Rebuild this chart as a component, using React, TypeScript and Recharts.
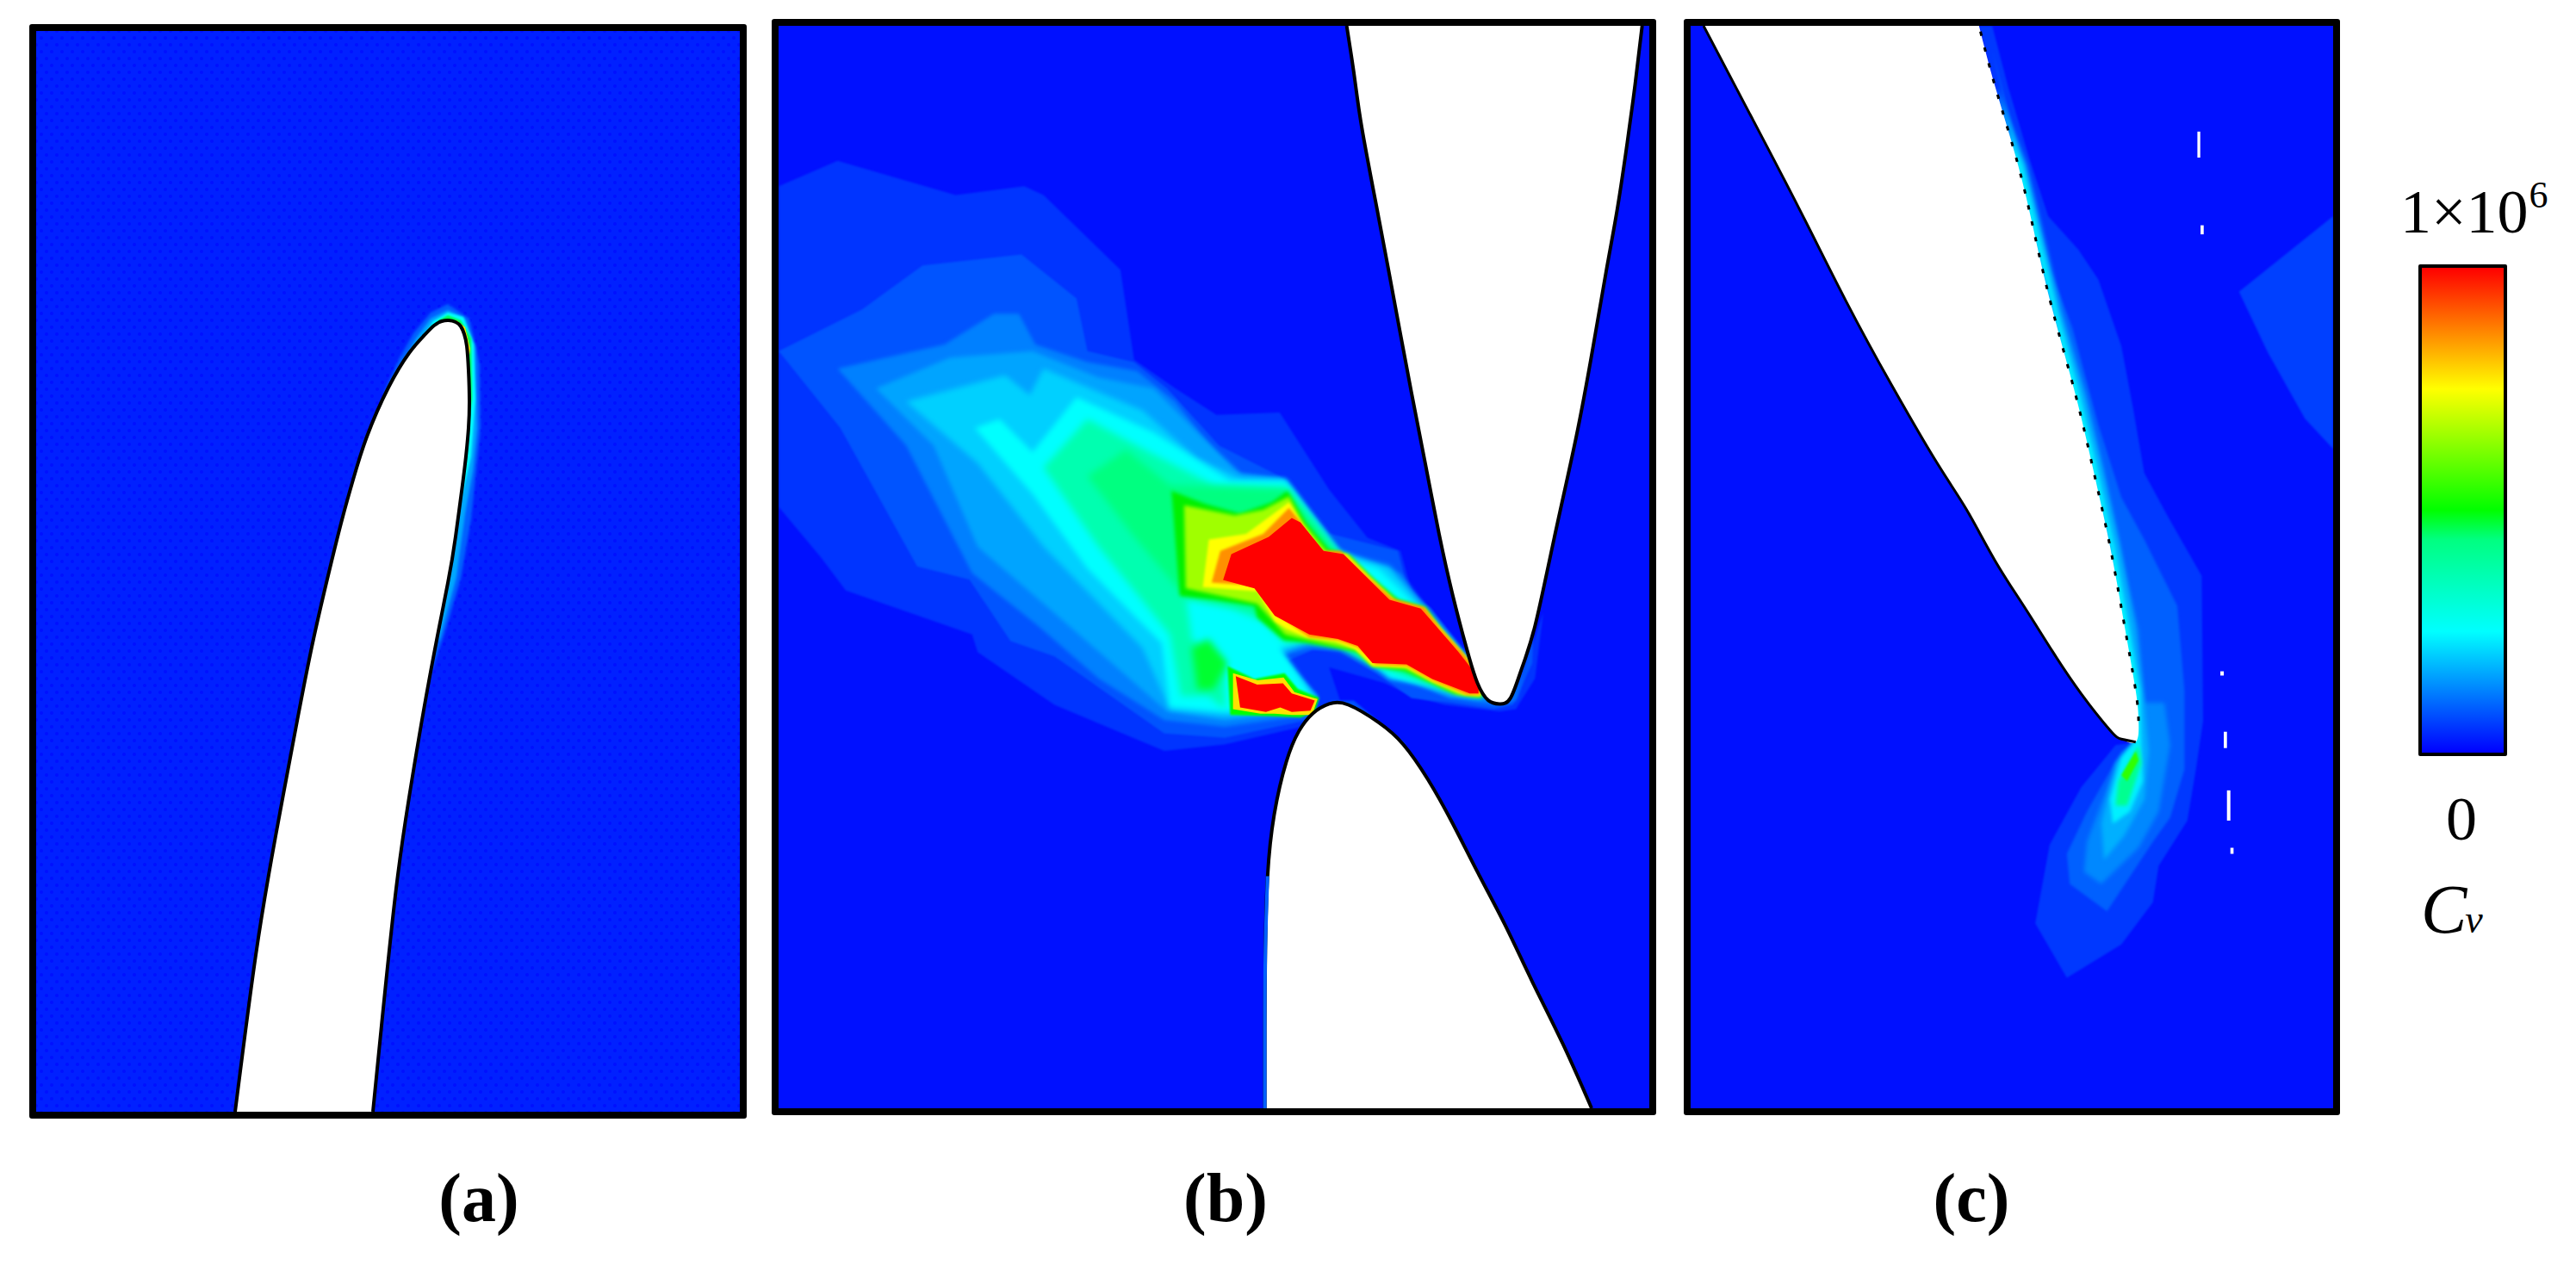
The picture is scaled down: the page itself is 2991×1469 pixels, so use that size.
import React from "react";
import { ScatterChart, Scatter, XAxis, YAxis, Polygon, Curve, BarChart, Bar } from "recharts";

type Pt = [number, number];

const BLUE = "#0010ff";

// panel (a), read in image pixels
const aHalo1: Pt[] = [[498, 790], [518, 730], [535, 672], [547, 603], [558, 497], [557, 423], [545, 370], [520, 353], [500, 363], [480, 387], [463, 417], [447, 453], [435, 497], [470, 700]];
const aHalo2: Pt[] = [[510, 745], [530, 670], [540, 597], [549, 547], [554, 497], [552, 403], [540, 370], [520, 360], [500, 370], [483, 393], [470, 417], [453, 447], [440, 480], [480, 650]];
const aHalo3: Pt[] = [[535, 583], [547, 530], [552, 463], [550, 400], [538, 368], [520, 363], [503, 373], [487, 397], [475, 415], [500, 500]];
const aHalo4: Pt[] = [[543, 497], [548, 463], [547, 393], [535, 372], [520, 366], [508, 373], [510, 450]];
const aHalo5: Pt[] = [[530, 372], [540, 380], [546, 405], [545, 412], [535, 412]];
const aFoil: Pt[] = [[273, 1291], [297, 1109], [320, 971], [346, 832], [364, 742], [383, 660], [398, 600], [410, 557], [426, 507], [451, 450], [475, 410], [492, 390], [504, 378], [513, 373], [521, 372], [529, 374], [535, 379], [539, 388], [542, 402], [544, 430], [545, 465], [544, 497], [541, 530], [537, 563], [529, 623], [520, 677], [498, 791], [475, 926], [459, 1040], [443, 1191], [433, 1291]];

// panel (b), in grid units
const bL1: Pt[] = [[38, 130], [145, 72], [360, 150], [485, 130], [520, 150], [660, 320], [685, 525], [760, 590], [835, 650], [950, 645], [1040, 820], [1110, 930], [1170, 960], [1190, 1050], [1225, 1090], [1300, 1210], [1320, 1285], [1350, 1290], [1400, 1210], [1430, 1100], [1415, 1250], [1380, 1320], [1350, 1325], [1250, 1310], [1190, 1290], [1140, 1260], [1040, 1225], [1060, 1300], [1040, 1310], [990, 1360], [850, 1400], [740, 1415], [540, 1310], [400, 1190], [390, 1150], [160, 1050], [115, 975], [38, 860]];
const bEdge: Pt[] = [[1040, 1300], [1085, 1300], [1180, 1400], [1160, 1400], [1070, 1320]];
const bL2: Pt[] = [[38, 505], [190, 410], [300, 310], [480, 285], [580, 385], [600, 505], [685, 530], [745, 590], [840, 720], [950, 790], [1040, 920], [1165, 960], [1185, 1055], [1225, 1090], [1300, 1215], [1325, 1285], [1370, 1295], [1395, 1225], [1412, 1150], [1410, 1215], [1375, 1310], [1340, 1320], [1260, 1305], [1190, 1295], [1140, 1250], [1060, 1190], [1010, 1185], [955, 1215], [1020, 1290], [1000, 1345], [850, 1385], [740, 1375], [540, 1200], [460, 1165], [385, 1025], [290, 995], [150, 680]];
const bL3: Pt[] = [[145, 545], [340, 490], [430, 420], [475, 420], [505, 490], [600, 530], [690, 550], [760, 620], [860, 780], [950, 795], [1050, 950], [1170, 1010], [1215, 1085], [1300, 1210], [1330, 1300], [1375, 1295], [1395, 1240], [1380, 1300], [1340, 1310], [1260, 1295], [1200, 1260], [1150, 1250], [1060, 1180], [1010, 1180], [950, 1200], [1020, 1290], [995, 1335], [850, 1360], [740, 1345], [620, 1250], [510, 1130], [390, 1010], [270, 720]];
const bL4: Pt[] = [[215, 590], [350, 520], [500, 505], [620, 565], [720, 590], [800, 690], [880, 785], [960, 795], [1060, 960], [1170, 1030], [1215, 1090], [1300, 1215], [1330, 1295], [1260, 1290], [1150, 1240], [1060, 1170], [1005, 1170], [950, 1195], [1020, 1295], [990, 1325], [850, 1345], [745, 1325], [640, 1210], [520, 1080], [400, 950], [320, 720]];
const bL5: Pt[] = [[270, 620], [450, 560], [495, 605], [520, 545], [700, 640], [800, 750], [880, 795], [960, 800], [1060, 965], [1150, 995], [1210, 1090], [1300, 1225], [1320, 1295], [1260, 1285], [1150, 1240], [1060, 1165], [1000, 1165], [950, 1190], [1015, 1300], [990, 1320], [850, 1335], [750, 1320], [700, 1180], [520, 950], [400, 760]];
const bL6: Pt[] = [[395, 680], [440, 660], [500, 735], [580, 610], [720, 690], [860, 800], [960, 800], [1060, 970], [1130, 1000], [1205, 1090], [1300, 1240], [1315, 1290], [1250, 1270], [1150, 1250], [1130, 1225], [1060, 1170], [1000, 1160], [950, 1180], [1015, 1300], [990, 1318], [850, 1325], [750, 1315], [735, 1170], [600, 1000], [500, 830]];
const bL7: Pt[] = [[520, 770], [600, 660], [720, 740], [830, 810], [960, 815], [1050, 965], [1150, 1070], [1200, 1090], [1300, 1250], [1310, 1290], [1250, 1270], [1120, 1215], [1060, 1180], [1000, 1165], [960, 1170], [920, 1120], [860, 1090], [780, 1070], [790, 1160], [850, 1220], [850, 1320], [820, 1290], [770, 1290], [750, 1150], [620, 950]];
const bL8: Pt[] = [[600, 790], [670, 730], [750, 810], [965, 820], [1060, 970], [1150, 1070], [1300, 1250], [1250, 1270], [1120, 1215], [1060, 1170], [960, 1150], [900, 1090], [775, 1060], [680, 920]];
const bBlob: Pt[] = [[790, 1180], [820, 1160], [855, 1215], [830, 1275], [800, 1275]];
const bL9: Pt[] = [[964, 823], [998, 895], [1040, 957], [1077, 970], [1119, 1022], [1166, 1071], [1215, 1088], [1244, 1140], [1291, 1209], [1318, 1251], [1318, 1294], [1265, 1284], [1228, 1261], [1176, 1232], [1119, 1222], [1092, 1189], [998, 1169], [957, 1163], [909, 1111], [904, 1085], [831, 1071], [768, 1062], [753, 823], [815, 853], [878, 875], [936, 849]];
const bL10: Pt[] = [[967, 836], [993, 895], [1035, 960], [1075, 968], [1116, 1020], [1163, 1073], [1214, 1089], [1244, 1138], [1288, 1200], [1317, 1248], [1317, 1292], [1275, 1287], [1228, 1259], [1178, 1228], [1119, 1222], [1090, 1186], [1000, 1162], [960, 1150], [909, 1080], [779, 1045], [776, 856], [868, 879], [920, 866]];
const bL11: Pt[] = [[967, 849], [993, 902], [1027, 964], [1071, 967], [1113, 1019], [1160, 1075], [1213, 1091], [1244, 1137], [1286, 1196], [1316, 1245], [1316, 1290], [1286, 1287], [1228, 1258], [1181, 1225], [1119, 1222], [1087, 1183], [1051, 1166], [998, 1156], [962, 1137], [941, 1120], [909, 1052], [810, 1042], [821, 934], [889, 921]];
const bL12: Pt[] = [[967, 862], [985, 889], [1024, 960], [1061, 960], [1108, 1016], [1155, 1068], [1213, 1088], [1241, 1134], [1281, 1189], [1315, 1245], [1315, 1287], [1291, 1287], [1228, 1254], [1181, 1222], [1124, 1218], [1092, 1179], [1056, 1163], [1004, 1156], [962, 1120], [941, 1104], [909, 1039], [826, 1032], [842, 960], [920, 921]];
const bL13: Pt[] = [[972, 885], [988, 895], [1030, 960], [1066, 967], [1108, 1019], [1150, 1071], [1207, 1091], [1239, 1137], [1275, 1189], [1312, 1248], [1312, 1284], [1296, 1284], [1228, 1251], [1181, 1218], [1119, 1215], [1092, 1176], [1056, 1160], [1004, 1150], [941, 1107], [904, 1045], [847, 1026], [862, 967], [930, 928]];
const bSmallGreen: Pt[] = [[855, 1222], [904, 1251], [959, 1238], [983, 1274], [1022, 1294], [1014, 1326], [988, 1339], [936, 1336], [860, 1333]];
const bSmallYellow: Pt[] = [[865, 1238], [910, 1254], [957, 1248], [977, 1281], [1019, 1297], [1009, 1333], [972, 1333], [941, 1330], [915, 1330], [865, 1320]];
const bSmallRed: Pt[] = [[870, 1245], [909, 1264], [956, 1261], [972, 1284], [1014, 1300], [1006, 1323], [972, 1326], [951, 1316], [925, 1326], [878, 1316]];
const bUpperFoil: Pt[] = [[1072, -235], [1086, -120], [1100, 0], [1130, 200], [1160, 400], [1190, 600], [1215, 760], [1240, 920], [1265, 1060], [1290, 1180], [1310, 1260], [1330, 1300], [1350, 1308], [1370, 1295], [1390, 1230], [1415, 1130], [1450, 930], [1490, 700], [1520, 500], [1545, 320], [1565, 180], [1583, 30], [1597, -100], [1610, -235]];
const bLowerFoil: Pt[] = [[923, 2228], [923, 2050], [924, 1870], [928, 1700], [940, 1560], [962, 1440], [985, 1370], [1010, 1330], [1040, 1308], [1075, 1310], [1130, 1350], [1175, 1400], [1220, 1480], [1265, 1580], [1310, 1690], [1360, 1810], [1410, 1940], [1465, 2080], [1518, 2228]];

// panel (c), in grid units
const cL1: Pt[] = [[144, -100], [190, -100], [245, 0], [320, 120], [385, 215], [490, 270], [560, 320], [640, 430], [680, 530], [720, 640], [800, 710], [920, 810], [925, 1050], [900, 1130], [870, 1215], [770, 1290], [750, 1350], [640, 1420], [450, 1475], [340, 1385], [390, 1255], [500, 1160], [620, 1090], [690, 1085], [600, 760], [400, 370]];
const cL2: Pt[] = [[190, -60], [290, 120], [390, 300], [470, 400], [560, 560], [640, 680], [720, 750], [835, 860], [860, 1000], [860, 1130], [810, 1210], [750, 1250], [590, 1365], [460, 1320], [450, 1270], [520, 1200], [640, 1100], [690, 1085], [600, 760], [400, 370]];
const cL3: Pt[] = [[210, 0], [340, 230], [460, 470], [560, 620], [640, 780], [700, 900], [720, 1020], [790, 1020], [810, 1090], [770, 1200], [700, 1260], [570, 1320], [510, 1300], [520, 1250], [600, 1150], [680, 1090], [600, 760], [400, 370]];
const cL4: Pt[] = [[205, 0], [310, 130], [370, 250], [430, 370], [515, 510], [575, 630], [635, 760], [685, 890], [720, 1020], [735, 1100], [720, 1180], [650, 1240], [580, 1280], [570, 1220], [620, 1120], [685, 1085], [600, 760], [400, 370]];
const cL5: Pt[] = [[205, 0], [240, 70], [295, 130], [355, 250], [415, 370], [495, 510], [555, 630], [615, 760], [665, 890], [705, 1000], [710, 1100], [715, 1150], [670, 1200], [610, 1220], [600, 1180], [640, 1110], [685, 1085], [600, 760], [400, 370]];
const cL6: Pt[] = [[630, 1150], [700, 1090], [710, 1120], [660, 1190], [620, 1190]];
const cL7: Pt[] = [[640, 1140], [690, 1100], [700, 1115], [660, 1150]];
const cSide: Pt[] = [[1378, 215], [1050, 340], [1150, 440], [1280, 550], [1378, 600]];
const cLowerEdge: Pt[] = [[-816, -100], [-650, 50], [-480, 205], [-320, 355], [-160, 495], [0, 625], [100, 700], [200, 785], [300, 860], [400, 935], [500, 1005], [600, 1065], [640, 1080], [690, 1085]];
const cUpperEdge: Pt[] = [[700, 1050], [690, 1000], [650, 890], [600, 760], [540, 630], [480, 510], [400, 370], [340, 250], [280, 130], [200, 0], [144, -100]];
const cFoil: Pt[] = [...cLowerEdge, ...cUpperEdge];
const cSpecks: Pt[][] = [
  [[905, 75], [915, 75], [915, 118], [905, 118]],
  [[916, 230], [927, 230], [927, 245], [916, 245]],
  [[985, 968], [997, 968], [997, 975], [985, 975]],
  [[997, 1068], [1008, 1068], [1008, 1095], [997, 1095]],
  [[1008, 1165], [1020, 1165], [1020, 1215], [1008, 1215]],
  [[1020, 1260], [1031, 1260], [1031, 1270], [1020, 1270]],
];

// colour bar
const barValue = [{ name: "Cv", v: 1000000 }];
const barOffsets = [0, 0.25, 0.5, 0.56, 0.75, 1];
const barColors = ["#ff0000", "#ffff00", "#00ff00", "#00ff80", "#00ffff", "#0000ff"];

const rows = (pts: Pt[]) => pts.map(([x, y]) => ({ x, y }));

// a filled contour level, the library scales the vertices
function level(pts: Pt[], fill: string, key: string, blur = 0) {
  return (
    <Scatter
      key={key}
      data={rows(pts)}
      isAnimationActive={false}
      shape={() => null}
      line={(p: any) => (
        <g style={blur ? { filter: `blur(${blur}px)` } : undefined}>
          <Polygon points={p.points} fill={fill} stroke="none" />
        </g>
      )}
    />
  );
}

// blade body, smooth outline
function foil(pts: Pt[], key: string) {
  return (
    <Scatter
      key={key}
      data={rows(pts)}
      isAnimationActive={false}
      shape={() => null}
      line={(p: any) => <Curve type="natural" points={p.points} fill="#fff" stroke="none" />}
    />
  );
}

function edge(pts: Pt[], width: number, key: string, dash?: string, color = "#000") {
  return (
    <Scatter
      key={key}
      data={rows(pts)}
      isAnimationActive={false}
      shape={() => null}
      lineJointType="natural"
      line={{ stroke: color, strokeWidth: width, strokeDasharray: dash }}
    />
  );
}

function Panel({ box, xDomain, yDomain, bg, children }: any) {
  const w = box[2] - box[0];
  const h = box[3] - box[1];
  return (
    <div style={{ position: "absolute", left: box[0] - 8, top: box[1] - 8, width: w, height: h, border: "8px solid #000", borderRadius: 3, ...bg }}>
      <ScatterChart width={w} height={h} margin={{ top: 0, right: 0, bottom: 0, left: 0 }}>
        <XAxis type="number" dataKey="x" domain={xDomain} allowDataOverflow hide />
        <YAxis type="number" dataKey="y" domain={yDomain} allowDataOverflow reversed hide />
        {children}
      </ScatterChart>
    </div>
  );
}

const dotted = {
  backgroundColor: "#0020ff",
  backgroundImage: `radial-gradient(circle, ${BLUE} 1.5px, transparent 2.5px), radial-gradient(circle, ${BLUE} 1.5px, transparent 2.5px)`,
  backgroundSize: "12px 16px",
  backgroundPosition: "0 0, 6px 8px",
};

export default function App() {
  return (
    <div style={{ position: "absolute", left: 0, top: 0, width: 2991, height: 1469, background: "#fff", overflow: "hidden" }}>
      <Panel box={[42, 36, 859, 1291]} xDomain={[42, 859]} yDomain={[36, 1291]} bg={dotted}>
        {[
          level(aHalo1, "#0060ff", "a1", 1.5),
          level(aHalo2, "#00a8ff", "a2", 1.5),
          level(aHalo3, "#00ffff", "a3", 1),
          level(aHalo4, "#00ff50", "a4", 1),
          level(aHalo5, "#ffe000", "a5", 0.5),
          foil(aFoil, "af"),
          edge(aFoil, 4, "ae"),
        ]}
      </Panel>

      <Panel box={[904, 30, 1915, 1287]} xDomain={[37.6, 1623]} yDomain={[-235, 2228]} bg={{ background: BLUE }}>
        {[
          level(bL1, "#0034ff", "b1", 0.8),
          level(bEdge, "#0050ff", "be", 0.8),
          level(bL2, "#0054ff", "b2", 0.8),
          level(bL3, "#0080ff", "b3", 2),
          level(bL4, "#00a4ff", "b4", 2.5),
          level(bL5, "#00d0ff", "b5", 3),
          level(bL6, "#00ffff", "b6", 3),
          level(bL7, "#00ffb0", "b7", 4),
          level(bL8, "#00ff80", "b8", 4),
          level(bBlob, "#00ff30", "bb", 4),
          level(bL9, "#00f000", "b9", 2),
          level(bL10, "#a0ff00", "b10", 2),
          level(bL11, "#ffff00", "b11", 1.5),
          level(bL12, "#ff9000", "b12", 1.5),
          level(bL13, "#ff0000", "b13", 0.5),
          level(bSmallGreen, "#00ff00", "s1", 1),
          level(bSmallYellow, "#ffe000", "s2", 0.5),
          level(bSmallRed, "#ff0000", "s3", 0.5),
          foil(bUpperFoil, "bu"),
          foil(bLowerFoil, "bl"),
          edge(bUpperFoil, 4, "bue"),
          edge(bLowerFoil, 4, "ble"),
          edge(bLowerFoil.slice(0, 4), 4, "blb", undefined, "#0060ff"),
        ]}
      </Panel>

      <Panel box={[1963, 30, 2709, 1287]} xDomain={[-861, 1378]} yDomain={[-100, 1691]} bg={{ background: BLUE }}>
        {[
          level(cSide, "#0040ff", "cs", 0.8),
          level(cL1, "#0038ff", "c1", 1),
          level(cL2, "#0060ff", "c2", 1.5),
          level(cL3, "#0088ff", "c3", 2.5),
          level(cL4, "#00b0ff", "c4", 2.5),
          level(cL5, "#00f0ff", "c5", 2),
          level(cL6, "#00ff90", "c6", 2),
          level(cL7, "#30ff00", "c7", 1),
          foil(cFoil, "cf"),
          edge(cLowerEdge, 3, "ce"),
          edge(cUpperEdge, 3, "cd", "5 14"),
          ...cSpecks.map((s, i) => level(s, "#fff", "sp" + i)),
        ]}
      </Panel>

      <div style={{ position: "absolute", left: 2808, top: 307, width: 95, height: 563, border: "4px solid #000", borderRadius: 2 }}>
        <BarChart width={95} height={563} data={barValue} margin={{ top: 0, right: 0, bottom: 0, left: 0 }} barCategoryGap={0}>
          <defs>
            <linearGradient id="cbar" x1="0" y1="0" x2="0" y2="1">
              {barOffsets.map((o, i) => <stop key={o} offset={o} stopColor={barColors[i]} />)}
            </linearGradient>
          </defs>
          <XAxis dataKey="name" hide />
          <YAxis domain={[0, 1000000]} hide />
          <Bar dataKey="v" fill="url(#cbar)" isAnimationActive={false} />
        </BarChart>
      </div>

      <svg width={2991} height={1469} style={{ position: "absolute", left: 0, top: 0, pointerEvents: "none" }}>
        <g fontFamily="'Liberation Serif'" fontWeight="bold" fontSize={80} textAnchor="middle" fill="#000">
          <text x={556} y={1418}>(a)</text>
          <text x={1423} y={1418}>(b)</text>
          <text x={2289} y={1418}>(c)</text>
        </g>
        <g fontFamily="'Liberation Serif'" fill="#000">
          <text x={2787} y={270} fontSize={72}>
            1×10<tspan dy={-29} dx={1} fontSize={44}>6</tspan>
          </text>
          <text x={2858} y={975} fontSize={72} textAnchor="middle">0</text>
          <text x={2811} y={1083} fontSize={80} fontStyle="italic">
            C<tspan dx={-2} fontSize={46}>v</tspan>
          </text>
        </g>
      </svg>
    </div>
  );
}
